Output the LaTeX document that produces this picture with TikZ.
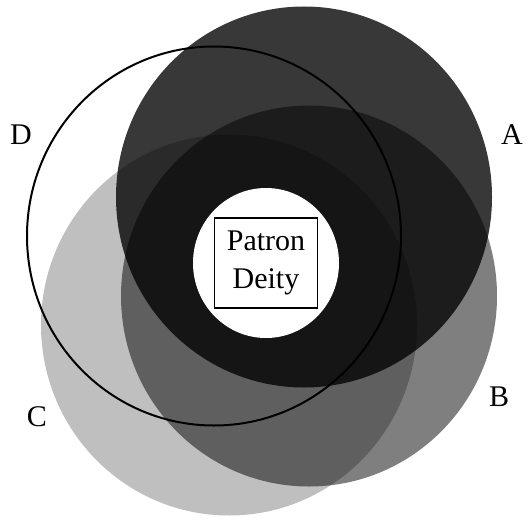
\documentclass[tikz,border=0pt]{standalone}
\usepackage{fontspec}
\setmainfont{Liberation Serif}
\usetikzlibrary{shapes.geometric}

\begin{document}
\begin{tikzpicture}[x=1pt, y=-1pt,
  disc/.style={ellipse, fill=black, fill opacity=#1, minimum width=376pt,
               minimum height=381pt, inner sep=0pt},
  tag/.style={inner sep=0pt, font=\fontsize{30}{36}\selectfont}]
  \useasboundingbox (0,0) rectangle (532,519);

  % overlapping circles
  \node[disc=0.25] (circC) at (229,325) {};
  \node[disc=0.5]  (circB) at (309,296) {};
  \node[disc=0.78] (circA) at (304,197) {};
  \node[ellipse, fill=white, minimum width=146pt, minimum height=150pt,
        inner sep=0pt] (core) at (266,263) {};
  \node[ellipse, draw=black, line width=2pt, minimum width=374pt,
        minimum height=379pt, inner sep=0pt] (circD) at (214,236) {};

  \node[draw=black, line width=1.8pt, minimum width=103pt, minimum height=90pt,
        align=center, inner sep=0pt, font=\fontsize{30}{38}\selectfont]
       (deity) at (core) {Patron\\Deity};

  % labels
  \node[tag] (labA) at (512,135) {A};
  \node[tag] (labB) at (499,397) {B};
  \node[tag] (labC) at (37,417)  {C};
  \node[tag] (labD) at (21,135)  {D};
\end{tikzpicture}
\end{document}
